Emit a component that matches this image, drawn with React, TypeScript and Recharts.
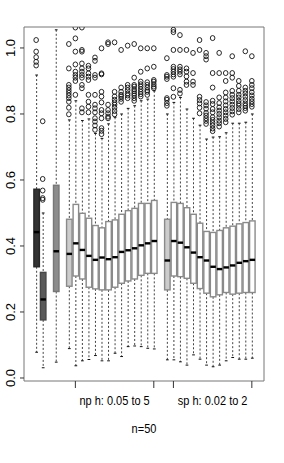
import { ComposedChart, Bar, Scatter, XAxis, YAxis, ReferenceArea, Label } from "recharts";

// slot positions of the boxes (3 reference boxes, then np h and sp h groups)
const SLOTS = [1, 2, 4, 6, 7, 8, 9, 10, 11, 12, 13, 14, 15, 16, 17, 18, 19, 21, 22, 23, 24, 25, 26, 27, 28, 29, 30, 31, 32, 33, 34];

const Q1 = [0.337, 0.176, 0.262,
  0.278, 0.309, 0.300, 0.275, 0.270, 0.267, 0.267, 0.275, 0.287, 0.294, 0.300, 0.311, 0.317, 0.317,
  0.267, 0.309, 0.307, 0.302, 0.287, 0.271, 0.257, 0.246, 0.252, 0.259, 0.254, 0.257, 0.259, 0.259];
const MEDIAN = [0.442, 0.238, 0.384,
  0.376, 0.408, 0.388, 0.370, 0.358, 0.365, 0.360, 0.366, 0.382, 0.387, 0.393, 0.402, 0.408, 0.415,
  0.356, 0.415, 0.410, 0.396, 0.380, 0.366, 0.356, 0.337, 0.330, 0.335, 0.341, 0.349, 0.354, 0.358];
const Q3 = [0.572, 0.320, 0.584,
  0.481, 0.526, 0.499, 0.484, 0.462, 0.455, 0.474, 0.479, 0.496, 0.507, 0.514, 0.529, 0.529, 0.538,
  0.481, 0.532, 0.529, 0.516, 0.496, 0.469, 0.444, 0.441, 0.447, 0.455, 0.460, 0.467, 0.471, 0.476];
const LOW = [0.078, 0.031, 0.048,
  0.089, 0.037, 0.052, 0.056, 0.068, 0.052, 0.052, 0.075, 0.065, 0.095, 0.097, 0.095, 0.090, 0.088,
  0.055, 0.055, 0.049, 0.039, 0.070, 0.057, 0.039, 0.034, 0.039, 0.052, 0.062, 0.057, 0.057, 0.060];
const HIGH = [0.918, 0.500, 1.055,
  0.782, 0.840, 0.780, 0.785, 0.741, 0.726, 0.770, 0.790, 0.800, 0.817, 0.825, 0.840, 0.845, 0.870,
  0.800, 0.835, 0.850, 0.815, 0.787, 0.766, 0.724, 0.730, 0.731, 0.743, 0.772, 0.772, 0.775, 0.800];

const OUTLIERS: number[][] = [
  [1.024, 0.989, 0.972, 0.958, 0.947],
  [0.778, 0.603, 0.568, 0.545, 0.540],
  [],
  // np h
  [1.012, 0.938, 0.888, 0.880, 0.872, 0.864, 0.856, 0.848, 0.837, 0.819, 0.799],
  [1.062, 1.029, 0.989, 0.950, 0.928, 0.918, 0.910, 0.900, 0.858],
  [1.062, 0.994, 0.989, 0.953, 0.938, 0.928, 0.918, 0.910, 0.888, 0.878, 0.817, 0.805],
  [0.946, 0.938, 0.923, 0.913, 0.903, 0.858, 0.837, 0.822, 0.805],
  [0.971, 0.961, 0.918, 0.910, 0.858, 0.828, 0.817, 0.805, 0.787, 0.777, 0.765, 0.752],
  [0.999, 0.923, 0.920, 0.867, 0.853, 0.835, 0.812, 0.802, 0.787, 0.757, 0.749, 0.739],
  [1.017, 1.012, 0.828, 0.812, 0.802, 0.792, 0.787],
  [1.017, 0.867, 0.853, 0.843, 0.835, 0.828, 0.819, 0.809, 0.799],
  [0.994, 0.880, 0.867, 0.858, 0.853, 0.846, 0.837],
  [1.007, 0.888, 0.880, 0.872, 0.862, 0.856, 0.848],
  [1.012, 0.910, 0.888, 0.883, 0.875, 0.869, 0.862, 0.856, 0.848, 0.840],
  [0.999, 0.928, 0.898, 0.890, 0.883, 0.875, 0.867, 0.860, 0.853],
  [0.999, 0.938, 0.896, 0.888, 0.880, 0.872, 0.867, 0.858],
  [0.999, 0.943, 0.903, 0.898, 0.890, 0.883, 0.878],
  // sp h
  [0.969, 0.918, 0.913, 0.906, 0.848, 0.843, 0.833, 0.825],
  [1.055, 1.048, 0.994, 0.943, 0.936, 0.928, 0.920, 0.913, 0.878, 0.852],
  [1.039, 0.994, 0.943, 0.935, 0.928, 0.920, 0.873, 0.862],
  [0.994, 0.938, 0.928, 0.914, 0.898, 0.888],
  [0.985, 0.924, 0.898, 0.888],
  [1.024, 0.994, 0.852, 0.842, 0.832, 0.819, 0.802],
  [0.985, 0.975, 0.965, 0.836, 0.826, 0.816, 0.803, 0.795, 0.787, 0.779, 0.770],
  [1.030, 0.924, 0.880, 0.840, 0.830, 0.815, 0.805, 0.790, 0.782, 0.773, 0.765, 0.756, 0.748],
  [0.985, 0.924, 0.850, 0.833, 0.820, 0.810, 0.800, 0.790, 0.780, 0.772, 0.762],
  [0.924, 0.900, 0.865, 0.850, 0.838, 0.826, 0.815, 0.805, 0.795, 0.785, 0.775],
  [0.975, 0.924, 0.910, 0.870, 0.858, 0.848, 0.838, 0.828, 0.818, 0.808, 0.798],
  [0.900, 0.885, 0.870, 0.858, 0.850, 0.840, 0.832, 0.825, 0.815, 0.805],
  [0.990, 0.880, 0.870, 0.862, 0.852, 0.842, 0.832, 0.825, 0.818, 0.810],
  [0.975, 0.900, 0.888, 0.878, 0.866, 0.856, 0.846, 0.838, 0.830, 0.822],
];

// axis ticks and group labels
const Y_TICKS = [0, 0.2, 0.4, 0.6, 0.8, 1.0];
const GROUP_TICKS = [7, 19, 22, 34];
const GROUP_CENTERS = [13, 28];
const GROUP_LABELS = ["np h: 0.05 to 5", "sp h: 0.02 to 2"];
const SUBTITLE = "n=50";

// box colours (styles, kept apart from the values)
const boxFill = (i: number) =>
  i === 0 ? "#333333" : i === 1 ? "#5a5a5a" : i === 2 ? "#8c8c8c" : i === 3 || i === 17 ? "#cccccc" : "#ffffff";
const boxStroke = (i: number) =>
  i === 0 ? "#262626" : i === 1 ? "#474747" : i === 2 ? "#777777" : "#8a8a8a";

const X_DOMAIN = [0.5 - 0.04 * 34, 34.5 + 0.04 * 34];
const Y_DOMAIN = [0.0306 - 0.04 * 0.9932, 1.0238 + 0.04 * 0.9932];

const rows = SLOTS.map((x, i) => ({
  x,
  i,
  range: [LOW[i], HIGH[i]],
  lo: LOW[i],
  hi: HIGH[i],
  q1: Q1[i],
  med: MEDIAN[i],
  q3: Q3[i],
}));

const points = SLOTS.flatMap((x, i) => OUTLIERS[i].map((y) => ({ x, y })));

const FONT = "'Liberation Sans', Arial, Helvetica, sans-serif";

function BoxShape(props: any) {
  const { x, y, width, height } = props;
  const d = props.payload ?? props;
  if (x == null || y == null) return null;
  // linear position inside the whisker span that the y scale gave us
  const py = (v: number) => y + (height * (d.hi - v)) / (d.hi - d.lo);
  const cx = x + width / 2;
  const cap = width / 4;
  return (
    <g>
      <line x1={cx} x2={cx} y1={py(d.hi)} y2={py(d.q3)} stroke="#444" strokeDasharray="2 2" />
      <line x1={cx} x2={cx} y1={py(d.q1)} y2={py(d.lo)} stroke="#444" strokeDasharray="2 2" />
      <line x1={cx - cap} x2={cx + cap} y1={py(d.hi)} y2={py(d.hi)} stroke="#111" />
      <line x1={cx - cap} x2={cx + cap} y1={py(d.lo)} y2={py(d.lo)} stroke="#111" />
      <rect
        x={x}
        y={py(d.q3)}
        width={width}
        height={py(d.q1) - py(d.q3)}
        fill={boxFill(d.i)}
        stroke={boxStroke(d.i)}
        strokeWidth={1.4}
      />
      <line x1={x} x2={x + width} y1={py(d.med)} y2={py(d.med)} stroke="#000" strokeWidth={2.4} />
    </g>
  );
}

function Outlier(props: any) {
  const { cx, cy } = props;
  if (cx == null || cy == null) return null;
  return <ellipse cx={cx} cy={cy} rx={2.3} ry={2.5} fill="none" stroke="#111" strokeWidth={0.9} />;
}

function XTick(props: any) {
  const { x, y, payload } = props;
  const k = GROUP_CENTERS.indexOf(payload.value);
  if (k >= 0) {
    return (
      <g transform={`translate(${x},${y}) scale(0.88,1)`}>
        <text x={0} y={24} textAnchor="middle" fontSize={12.5} fontFamily={FONT} fill="#000">
          {GROUP_LABELS[k]}
        </text>
      </g>
    );
  }
  return <line x1={x} x2={x} y1={y} y2={y + 7} stroke="#333" />;
}

function YTick(props: any) {
  const { x, y, payload } = props;
  const bx = x - 1.5;
  return (
    <text
      x={bx}
      y={y}
      transform={`rotate(-90, ${bx}, ${y})`}
      textAnchor="middle"
      fontSize={13}
      fontFamily={FONT}
      fill="#000"
    >
      {payload.value.toFixed(1)}
    </text>
  );
}

function SubLabel(props: any) {
  const vb = props.viewBox;
  const cx = vb.x + vb.width / 2;
  return (
    <g transform={`translate(${cx},${vb.y}) scale(0.88,1)`}>
      <text x={0} y={52} textAnchor="middle" fontSize={12.5} fontFamily={FONT} fill="#000">
        {SUBTITLE}
      </text>
    </g>
  );
}

export default function App() {
  return (
    <div style={{ position: "absolute", left: 0, top: 0, width: 284, height: 463, background: "#fff" }}>
      <ComposedChart
        width={284}
        height={463}
        data={rows}
        margin={{ top: 27, right: 20, bottom: 0, left: 0 }}
      >
        <XAxis
          xAxisId={0}
          type="number"
          dataKey="x"
          domain={X_DOMAIN}
          allowDataOverflow
          ticks={[...GROUP_TICKS, ...GROUP_CENTERS]}
          interval={0}
          tick={<XTick />}
          tickLine={false}
          axisLine={false}
          tickSize={0}
          tickMargin={0}
          height={82}
        >
          <Label content={<SubLabel />} />
        </XAxis>
        <YAxis
          yAxisId={0}
          type="number"
          domain={Y_DOMAIN}
          allowDataOverflow
          ticks={Y_TICKS}
          interval={0}
          tick={<YTick />}
          tickLine={{ stroke: "#333" }}
          axisLine={false}
          tickSize={4}
          tickMargin={3}
          width={24}
        />
        <ReferenceArea
          x1={X_DOMAIN[0]}
          x2={X_DOMAIN[1]}
          y1={Y_DOMAIN[0]}
          y2={Y_DOMAIN[1]}
          fill="none"
          stroke="#777"
          strokeWidth={1}
          ifOverflow="visible"
        />
        <Bar dataKey="range" barSize={5.5} shape={<BoxShape />} isAnimationActive={false} />
        <Scatter data={points} dataKey="y" shape={<Outlier />} isAnimationActive={false} />
      </ComposedChart>
    </div>
  );
}
